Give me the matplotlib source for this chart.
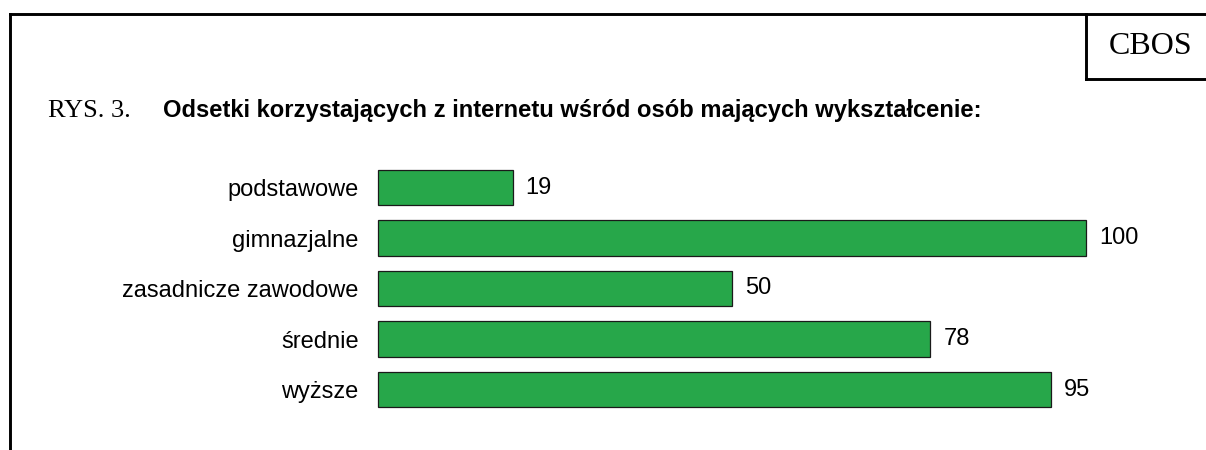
import matplotlib
matplotlib.use("Agg")
import matplotlib.pyplot as plt
from matplotlib.lines import Line2D

categories = ["podstawowe", "gimnazjalne", "zasadnicze zawodowe", "średnie", "wyższe"]
values = [19, 100, 50, 78, 95]
fig_label = "RYS. 3."
title = "Odsetki korzystających z internetu wśród osób mających wykształcenie:"
source = "CBOS"

W, H = 1206, 450
fig = plt.figure(figsize=(W / 100, H / 100), dpi=100)

def fx(px):
    return px / W

def fy(py):
    return 1 - py / H

# axes placement (pixels)
x0, x1 = 378, 1086
pitch = 50.5
top_c = 187.5
ax_top = top_c - pitch / 2
ax_bot = top_c + pitch * (len(categories) - 1) + pitch / 2
ax = fig.add_axes([fx(x0), fy(ax_bot), (x1 - x0) / W, (ax_bot - ax_top) / H])

ypos = list(range(len(categories)))
bars = ax.barh(ypos, values, height=0.70, color="#27A74A", edgecolor="#1a1a1a", linewidth=0.9)
for b in bars:
    b.set_clip_on(False)
ax.set_xlim(0, 100)
ax.set_ylim(len(categories) - 0.5, -0.5)
ax.set_yticks(ypos)
ax.set_yticklabels(categories, fontsize=17, family="Liberation Sans")
ax.tick_params(axis="y", length=0, pad=14)
ax.set_xticks([])
for s in ax.spines.values():
    s.set_visible(False)
ax.patch.set_alpha(0)

for i, v in enumerate(values):
    ax.annotate(str(v), (v, i), xytext=(9.5, 0), textcoords="offset points",
                va="center", ha="left", fontsize=17, family="Liberation Sans")

# titles
fig.text(fx(48), fy(117), fig_label, fontsize=19, family="Liberation Serif",
         va="baseline", ha="left")
fig.text(fx(163), fy(117), title, fontsize=17.15, family="Liberation Sans",
         fontweight="bold", va="baseline", ha="left")

# frame lines
lw = 2.1
top_y, left_x = 13.5, 10
box_x, box_y = 1086, 79
for xs, ys in [((left_x, W), (top_y, top_y)),
               ((left_x, left_x), (top_y, H)),
               ((box_x, box_x), (top_y, box_y)),
               ((box_x, W), (box_y, box_y))]:
    fig.add_artist(Line2D([fx(v) for v in xs], [fy(v) for v in ys],
                          color="black", linewidth=lw, solid_capstyle="projecting"))

fig.text(fx(1151), fy(54), source, fontsize=23, family="Liberation Serif",
         va="baseline", ha="center")

fig.savefig("out.png", dpi=100)
